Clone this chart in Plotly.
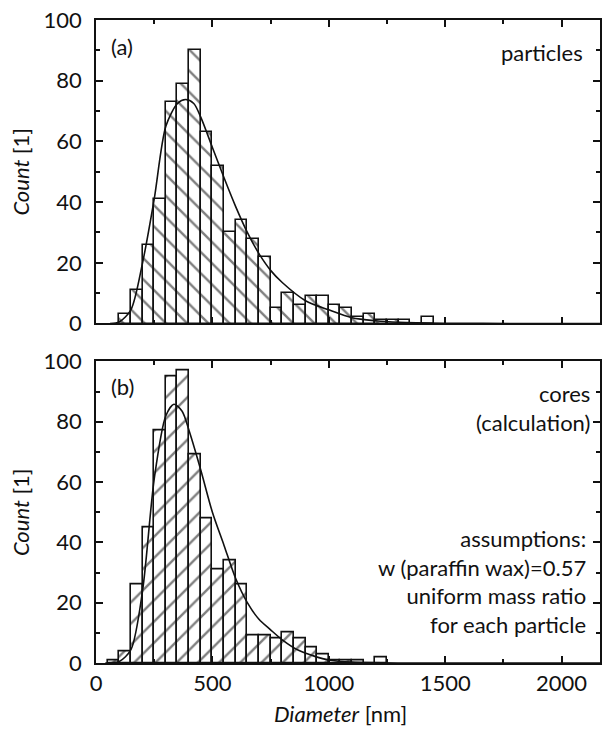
import plotly.graph_objects as go

# Histogram bins (left edge in nm) and counts, bin width 50 nm
BIN_WIDTH = 50

particle_bin_start = [100, 150, 200, 250, 300, 350, 400, 450, 500, 550, 600, 650, 700,
                      750, 800, 850, 900, 950, 1000, 1050, 1100, 1150, 1200, 1250, 1300,
                      1350, 1400]
particle_counts = [3, 11, 26, 41, 73, 79, 90, 63, 52, 30, 34, 28, 22,
                   5, 10, 6, 9, 9, 6, 5, 2, 3, 1, 1, 1,
                   0, 2]

core_bin_start = [50, 100, 150, 200, 250, 300, 350, 400, 450, 500, 550, 600, 650,
                  700, 750, 800, 850, 900, 950, 1000, 1050, 1100, 1150, 1200]
core_counts = [1, 4, 26, 45, 77, 95, 97, 69, 48, 31, 34, 26, 9,
               9, 8, 10, 8, 5, 3, 1, 1, 1, 0, 2]

# Fitted distribution curves (diameter nm, count)
particle_fit_d = [60, 100, 150, 200, 250, 300, 350, 385, 420, 450, 500, 550, 600, 650,
                  700, 750, 800, 900, 1000, 1100, 1200, 1300, 1500, 1800, 2200]
particle_fit_n = [0, 0.5, 4.5, 20, 41, 65, 72.5, 73.8, 72.5, 68, 58, 48, 38.5, 30,
                  23, 17.5, 13.5, 7.5, 4.5, 1.9, 0.9, 0.4, 0.1, 0, 0]

core_fit_d = [40, 100, 150, 200, 250, 300, 335, 370, 400, 450, 500, 550, 600, 650,
              700, 750, 800, 870, 940, 1000, 1100, 1300, 1600, 2200]
core_fit_n = [0, 0.5, 4.4, 24, 61, 82, 85.8, 83.5, 77, 64, 50, 39, 28, 20,
              14.5, 11, 7.7, 4.2, 2.2, 1.0, 0.3, 0, 0, 0]

FONT = "Lato"
BLACK = "#111111"

particle_centers = [s + BIN_WIDTH / 2 for s in particle_bin_start]
core_centers = [s + BIN_WIDTH / 2 for s in core_bin_start]

fig = go.Figure()

fig.add_trace(go.Bar(
    x=particle_centers, y=particle_counts, width=BIN_WIDTH,
    xaxis="x", yaxis="y",
    marker=dict(color="white", line=dict(color=BLACK, width=1.6),
                pattern=dict(shape="\\", size=15, solidity=0.16,
                             fgcolor="#000000", bgcolor="white")),
    showlegend=False,
))
fig.add_trace(go.Scatter(
    x=particle_fit_d, y=particle_fit_n, mode="lines",
    line=dict(color=BLACK, width=1.6, shape="spline", smoothing=0.8),
    xaxis="x", yaxis="y", showlegend=False,
))

fig.add_trace(go.Bar(
    x=core_centers, y=core_counts, width=BIN_WIDTH,
    xaxis="x2", yaxis="y2",
    marker=dict(color="white", line=dict(color=BLACK, width=1.6),
                pattern=dict(shape="/", size=15, solidity=0.16,
                             fgcolor="#000000", bgcolor="white")),
    showlegend=False,
))
fig.add_trace(go.Scatter(
    x=core_fit_d, y=core_fit_n, mode="lines",
    line=dict(color=BLACK, width=1.6, shape="spline", smoothing=0.8),
    xaxis="x2", yaxis="y2", showlegend=False,
))

XRANGE = [0, 2165]

def x_axis(show_labels, anchor):
    return dict(
        range=XRANGE, anchor=anchor, tickmode="linear", tick0=0, dtick=500,
        ticks="inside", ticklen=7, tickwidth=1.5, tickcolor=BLACK,
        minor=dict(dtick=250, ticks="inside", ticklen=4, tickwidth=1.5, tickcolor=BLACK),
        showline=True, linewidth=1.6, linecolor=BLACK, mirror="ticks",
        showgrid=False, zeroline=False, showticklabels=show_labels,
        tickfont=dict(family=FONT, size=22, color=BLACK),
    )

def y_axis(domain, anchor):
    return dict(
        domain=domain, anchor=anchor, range=[0, 100], tickmode="linear", tick0=0, dtick=20,
        ticks="inside", ticklen=7, tickwidth=1.5, tickcolor=BLACK,
        minor=dict(dtick=10, ticks="inside", ticklen=4, tickwidth=1.5, tickcolor=BLACK),
        showline=True, linewidth=1.6, linecolor=BLACK, mirror="ticks",
        showgrid=False, zeroline=False, ticklabelstandoff=8,
        tickfont=dict(family=FONT, size=22, color=BLACK),
        title=dict(text="<i>Count</i> [1]", standoff=8,
                   font=dict(family=FONT, size=22, color=BLACK)),
    )

fig.update_layout(
    width=603, height=734,
    margin=dict(l=96, r=1, t=20, b=71),
    plot_bgcolor="white", paper_bgcolor="white",
    font=dict(family=FONT, size=22, color=BLACK),
    bargap=0,
    xaxis=x_axis(False, "y"),
    yaxis=y_axis([0.528, 1.0], "x"),
    xaxis2=x_axis(True, "y2"),
    yaxis2=y_axis([0.0, 0.469], "x2"),
)

ann_font = dict(family=FONT, size=22, color=BLACK)
annotations = [
    dict(text="(a)", xref="x", yref="y", x=60, y=91.3, xanchor="left", yanchor="middle"),
    dict(text="particles", xref="x", yref="y", x=2098, y=89.3, xanchor="right", yanchor="middle"),
    dict(text="(b)", xref="x2", yref="y2", x=60, y=91.7, xanchor="left", yanchor="middle"),
    dict(text="cores<br>(calculation)", xref="x2", yref="y2", x=2125, y=84.7,
         xanchor="right", yanchor="middle", align="right"),
    dict(text="assumptions:<br>w (paraffin wax)=0.57<br>uniform mass ratio<br>for each particle",
         xref="x2", yref="y2", x=2111, y=27, xanchor="right", yanchor="middle", align="right"),
    dict(text="<i>Diameter</i> [nm]", xref="x2", yref="paper", x=1051, y=-0.079,
         xanchor="center", yanchor="middle"),
]
for a in annotations:
    a.update(showarrow=False, font=ann_font, borderpad=0)
fig.update_layout(annotations=annotations)

fig.write_html("out.html")
